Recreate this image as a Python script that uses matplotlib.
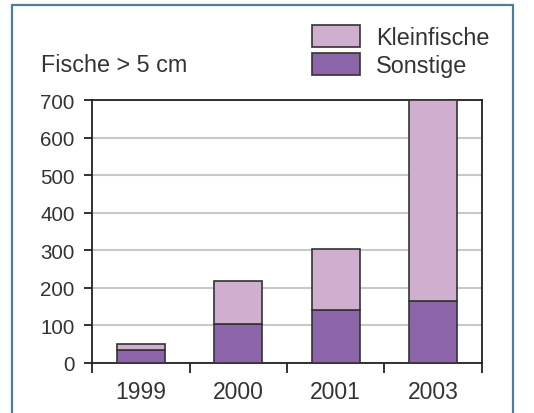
import matplotlib.pyplot as plt
import matplotlib
from matplotlib.patches import Rectangle

matplotlib.rcParams['font.family'] = ['Liberation Sans', 'DejaVu Sans']

jahre = ['1999', '2000', '2001', '2003']
sonstige = [35, 105, 142, 166]
kleinfische = [15, 112, 162, 534]

farbe_klein = '#d0aed0'
farbe_sonst = '#8c65a9'
text_farbe = '#333333'

fig = plt.figure(figsize=(5.34, 4.14), dpi=100)
ax = fig.add_axes([0.1723, 0.1208, 0.7303, 0.6352])

x = range(len(jahre))
b1 = ax.bar(x, sonstige, width=0.49, color=farbe_sonst, edgecolor='#333333', linewidth=1.2, zorder=3, label='Sonstige')
b2 = ax.bar(x, kleinfische, width=0.49, bottom=sonstige, color=farbe_klein, edgecolor='#333333', linewidth=1.2, zorder=3, label='Kleinfische')

ax.set_xlim(-0.5, 3.5)
ax.set_ylim(0, 700)
ax.set_yticks(range(0, 701, 100))
ax.set_xticks(list(x))
ax.set_xticklabels(jahre)
ax.set_xticks([-0.5, 0.5, 1.5, 2.5, 3.5], minor=True)
ax.tick_params(axis='x', which='major', length=0, pad=12, labelsize=16.5, labelcolor=text_farbe)
ax.tick_params(axis='x', which='minor', length=7, width=1.3, direction='out', color='#222222')
ax.tick_params(axis='y', length=6, width=1.3, direction='out', pad=6.5, labelsize=14.8, labelcolor=text_farbe, color='#222222')
ax.grid(axis='y', color='#c8c8c8', linewidth=1.5, zorder=0)
for s in ax.spines.values():
    s.set_color('#222222')
    s.set_linewidth(1.3)

fig.text(41/534, 1 - 65/414, 'Fische > 5 cm', fontsize=16.8, color=text_farbe, va='center', ha='left')

fig.legend(handles=[b2, b1], labels=['Kleinfische', 'Sonstige'], loc='upper left',
           bbox_to_anchor=(0.584, 0.937), frameon=False, fontsize=16.8,
           handlelength=2.06, handleheight=1.08, labelspacing=0.15, handletextpad=0.68,
           borderpad=0, borderaxespad=0, labelcolor=text_farbe)

fig.patches.append(Rectangle((12/534, -0.1), 501/534, 1.1 - 6/414, transform=fig.transFigure,
                             fill=False, edgecolor='#4d8096', linewidth=1.6))

fig.savefig('out.png', dpi=100, facecolor='white')
